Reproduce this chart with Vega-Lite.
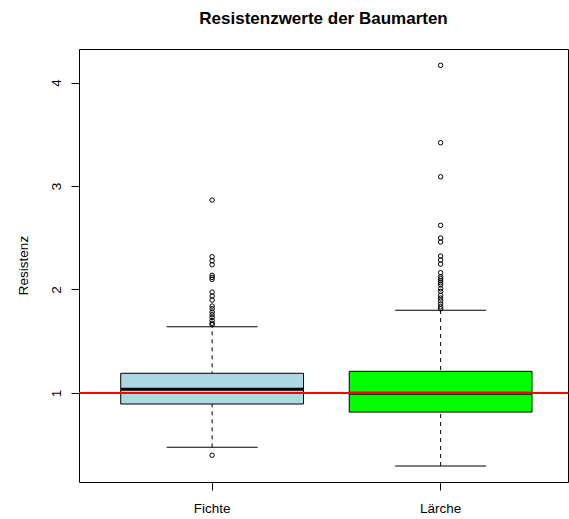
{
  "$schema": "https://vega.github.io/schema/vega-lite/v6.json",
  "autosize": {"type": "none"},
  "width": 489,
  "height": 433,
  "padding": {"left": 79, "top": 49, "right": 1, "bottom": 37},
  "background": "white",
  "config": {
    "font": "Liberation Sans",
    "view": {"stroke": "black", "strokeWidth": 1},
    "axis": {"grid": false, "domain": false, "tickColor": "black", "labelColor": "black", "titleColor": "black", "tickSize": 8}
  },
  "title": {
    "text": "Resistenzwerte der Baumarten",
    "font": "Liberation Sans",
    "fontSize": 17,
    "fontWeight": "bold",
    "color": "black",
    "anchor": "middle",
    "frame": "group",
    "baseline": "alphabetic",
    "offset": 8
  },
  "datasets": {
    "boxes": [
      {"Baumart": "Fichte", "lower": 0.474, "q1": 0.893, "median": 1.035, "q3": 1.19, "upper": 1.64},
      {"Baumart": "Lärche", "lower": 0.294, "q1": 0.815, "median": 0.996, "q3": 1.209, "upper": 1.8}
    ],
    "outliers": [
      {"Baumart": "Fichte", "Resistenz": 0.398},
      {"Baumart": "Fichte", "Resistenz": 2.865},
      {"Baumart": "Fichte", "Resistenz": 2.317},
      {"Baumart": "Fichte", "Resistenz": 2.278},
      {"Baumart": "Fichte", "Resistenz": 2.239},
      {"Baumart": "Fichte", "Resistenz": 2.137},
      {"Baumart": "Fichte", "Resistenz": 2.117},
      {"Baumart": "Fichte", "Resistenz": 2.098},
      {"Baumart": "Fichte", "Resistenz": 1.975},
      {"Baumart": "Fichte", "Resistenz": 1.937},
      {"Baumart": "Fichte", "Resistenz": 1.898},
      {"Baumart": "Fichte", "Resistenz": 1.84},
      {"Baumart": "Fichte", "Resistenz": 1.814},
      {"Baumart": "Fichte", "Resistenz": 1.782},
      {"Baumart": "Fichte", "Resistenz": 1.756},
      {"Baumart": "Fichte", "Resistenz": 1.73},
      {"Baumart": "Fichte", "Resistenz": 1.7},
      {"Baumart": "Fichte", "Resistenz": 1.673},
      {"Baumart": "Fichte", "Resistenz": 1.66},
      {"Baumart": "Lärche", "Resistenz": 4.167},
      {"Baumart": "Lärche", "Resistenz": 3.419},
      {"Baumart": "Lärche", "Resistenz": 3.09},
      {"Baumart": "Lärche", "Resistenz": 2.62},
      {"Baumart": "Lärche", "Resistenz": 2.497},
      {"Baumart": "Lärche", "Resistenz": 2.459},
      {"Baumart": "Lärche", "Resistenz": 2.323},
      {"Baumart": "Lärche", "Resistenz": 2.285},
      {"Baumart": "Lärche", "Resistenz": 2.246},
      {"Baumart": "Lärche", "Resistenz": 2.162},
      {"Baumart": "Lärche", "Resistenz": 2.123},
      {"Baumart": "Lärche", "Resistenz": 2.104},
      {"Baumart": "Lärche", "Resistenz": 2.085},
      {"Baumart": "Lärche", "Resistenz": 2.065},
      {"Baumart": "Lärche", "Resistenz": 2.046},
      {"Baumart": "Lärche", "Resistenz": 2.007},
      {"Baumart": "Lärche", "Resistenz": 1.982},
      {"Baumart": "Lärche", "Resistenz": 1.944},
      {"Baumart": "Lärche", "Resistenz": 1.917},
      {"Baumart": "Lärche", "Resistenz": 1.891},
      {"Baumart": "Lärche", "Resistenz": 1.859},
      {"Baumart": "Lärche", "Resistenz": 1.833},
      {"Baumart": "Lärche", "Resistenz": 1.814}
    ]
  },
  "encoding": {
    "x": {
      "field": "Baumart",
      "type": "nominal",
      "scale": {"domain": ["Fichte", "Lärche"], "paddingInner": 0.2, "paddingOuter": 0.17, "align": 0.537},
      "axis": {"title": null, "labelAngle": 0, "labelFontSize": 13.5, "labelPadding": 22, "labelBaseline": "alphabetic"}
    }
  },
  "layer": [
    {
      "data": {"name": "boxes"},
      "mark": {"type": "rule", "color": "black", "strokeWidth": 1, "strokeDash": [4, 4]},
      "encoding": {
        "y": {
          "field": "lower",
          "type": "quantitative",
          "scale": {"domain": [0.139, 4.325], "nice": false, "zero": false},
          "axis": {
            "title": "Resistenz",
            "values": [1, 2, 3, 4],
            "format": "d",
            "labelFontSize": 13.5,
            "labelAngle": 270,
            "labelAlign": "center",
            "labelBaseline": "alphabetic",
            "labelPadding": 11,
            "titleFontSize": 13.5,
            "titleFontWeight": "normal",
            "titleAngle": 270,
            "titleAlign": "center",
            "titleBaseline": "alphabetic",
            "titleX": -52,
            "titleY": 216
          }
        },
        "y2": {"field": "upper"}
      }
    },
    {
      "data": {"name": "boxes"},
      "mark": {"type": "tick", "color": "black", "opacity": 1, "thickness": 1, "size": 91, "orient": "horizontal"},
      "encoding": {"y": {"field": "lower", "type": "quantitative"}}
    },
    {
      "data": {"name": "boxes"},
      "mark": {"type": "tick", "color": "black", "opacity": 1, "thickness": 1, "size": 91, "orient": "horizontal"},
      "encoding": {"y": {"field": "upper", "type": "quantitative"}}
    },
    {
      "data": {"name": "boxes"},
      "mark": {"type": "bar", "stroke": "black", "strokeWidth": 1, "opacity": 1},
      "encoding": {
        "y": {"field": "q1", "type": "quantitative"},
        "y2": {"field": "q3"},
        "fill": {
          "field": "Baumart",
          "type": "nominal",
          "scale": {"domain": ["Fichte", "Lärche"], "range": ["#ADD8E6", "#00FF00"]},
          "legend": null
        }
      }
    },
    {
      "data": {"name": "boxes"},
      "mark": {"type": "tick", "color": "black", "opacity": 1, "thickness": 3, "size": 182, "orient": "horizontal"},
      "encoding": {"y": {"field": "median", "type": "quantitative"}}
    },
    {
      "data": {"name": "outliers"},
      "mark": {"type": "point", "shape": "circle", "filled": false, "color": "black", "strokeWidth": 1, "size": 20, "opacity": 1},
      "encoding": {"y": {"field": "Resistenz", "type": "quantitative"}}
    },
    {
      "data": {"values": [{}]},
      "mark": {"type": "rule", "color": "#FF0000", "strokeWidth": 2},
      "encoding": {"y": {"datum": 1, "type": "quantitative"}, "x": null}
    }
  ]
}
